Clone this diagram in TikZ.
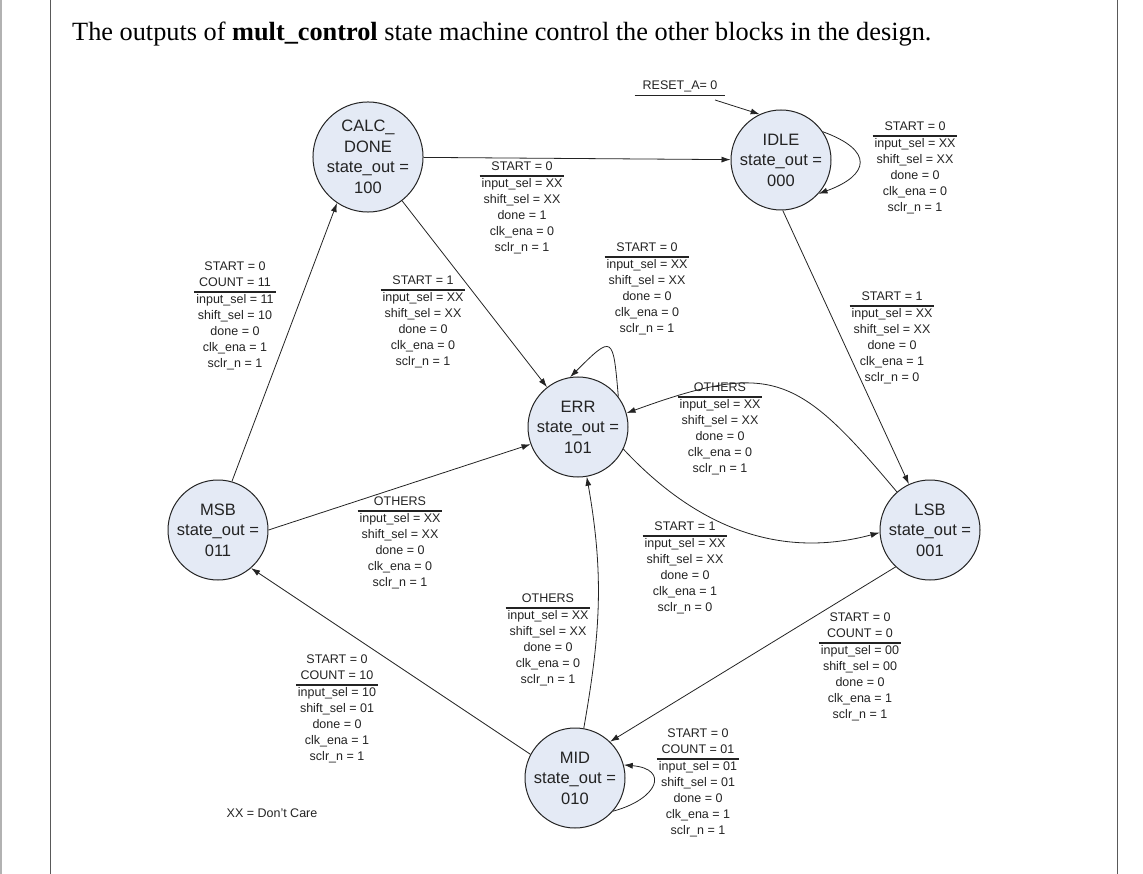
\documentclass[tikz,border=0pt]{standalone}
\usepackage{fontspec}
\setmainfont{Liberation Sans}
\newfontfamily\titlefont{Liberation Serif}
\usetikzlibrary{arrows.meta}
\definecolor{statefill}{RGB}{228,234,245}
\definecolor{ink}{RGB}{35,35,35}
\setlength{\arrayrulewidth}{1.1pt}
% condition(s) over a rule, outputs below
\newcommand{\outs}[2]{\begin{tabular}{@{\hspace{2pt}}c@{\hspace{2pt}}}#1\\\hline #2\end{tabular}}

\begin{document}
\begin{tikzpicture}[x=1pt,y=1pt,
  state/.style={circle,draw=ink,fill=statefill,line width=1pt,minimum size=100pt,
    inner sep=0pt,align=center,text=ink,font=\fontsize{16.5}{20.5}\selectfont},
  lbl/.style={inner sep=0pt,text=ink,font=\fontsize{12.5}{16}\selectfont},
  trans/.style={draw=ink,line width=0.8pt,-{Latex[length=9pt,width=6pt]}}]
  \useasboundingbox (0,0) rectangle (1143,-874);
  % page frame
  \draw[line width=2pt,gray!60] (1,0) -- (1,-874);
  \draw[line width=1pt,gray!70!black] (50,0) -- (50,-874);
  \draw[line width=1pt,gray!70!black] (1117,0) -- (1117,-874);
  \node[anchor=base west,inner sep=0pt,font=\titlefont\fontsize{26.3}{30}\selectfont] (title) at (72,-41)
    {The outputs of \textbf{mult\_control} state machine control the other blocks in the design.};

  % States
  \node[state] (calc) at (368,-157) {CALC\_\\DONE\\state\_out =\\100};
  \node[state] (idle) at (781,-160) {IDLE\\state\_out =\\000};
  \node[state] (err)  at (578,-427) {ERR\\state\_out =\\101};
  \node[state] (msb)  at (218,-530) {MSB\\state\_out =\\011};
  \node[state] (lsb)  at (930,-530) {LSB\\state\_out =\\001};
  \node[state] (mid)  at (575,-778) {MID\\state\_out =\\010};

  % Reset
  \node[lbl,anchor=south] (rstlbl) at (680,-96)
    {\begin{tabular}{@{\hspace{8pt}}c@{\hspace{8pt}}}RESET\_A= 0\\\hline\end{tabular}};
  \coordinate (rst) at (715,-100);
  \draw[trans] (rst) -- (idle.115);

  % Transitions
  \draw[trans] (calc) -- (idle);
  \draw[trans] (idle.34) to[out=-20,in=20,looseness=2.25] (idle.-42);
  \draw[trans] (idle.-88) -- (lsb);
  \draw[trans] (calc) -- (err);
  \draw[trans] (msb.74) -- (calc.236);
  \draw[trans] (err.37) to[out=95,in=45,looseness=3] (err.99);
  \draw[trans] (lsb.131) to[out=130,in=20,looseness=1.4] (err.16);
  \draw[trans] (err.-26) to[out=-47,in=195] (lsb.183);
  \draw[trans] (msb.east) -- (err.200);
  \draw[trans] (mid.80) to[out=80,in=-80] (err.-80);
  \draw[trans] (mid.152) -- (msb.-49);
  \draw[trans] (lsb.227) -- (mid.46);
  \draw[trans] (mid.-41) to[out=15,in=-5,looseness=2.5] (mid.15);

  % Transition outputs
  \node[lbl] (ocalcidle) at (522,-208)
    {\outs{START = 0}{input\_sel = XX\\shift\_sel = XX\\done = 1\\clk\_ena = 0\\sclr\_n = 1}};
  \node[lbl] (oidle) at (915,-168)
    {\outs{START = 0}{input\_sel = XX\\shift\_sel = XX\\done = 0\\clk\_ena = 0\\sclr\_n = 1}};
  \node[lbl] (oidlelsb) at (892,-338)
    {\outs{START = 1}{input\_sel = XX\\shift\_sel = XX\\done = 0\\clk\_ena = 1\\sclr\_n = 0}};
  \node[lbl] (ocalcerr) at (423,-322)
    {\outs{START = 1}{input\_sel = XX\\shift\_sel = XX\\done = 0\\clk\_ena = 0\\sclr\_n = 1}};
  \node[lbl] (omsbcalc) at (235,-316)
    {\outs{START = 0\\COUNT = 11}{input\_sel = 11\\shift\_sel = 10\\done = 0\\clk\_ena = 1\\sclr\_n = 1}};
  \node[lbl] (oerr) at (647,-289)
    {\outs{START = 0}{input\_sel = XX\\shift\_sel = XX\\done = 0\\clk\_ena = 0\\sclr\_n = 1}};
  \node[lbl] (olsberr) at (720,-429)
    {\outs{OTHERS}{input\_sel = XX\\shift\_sel = XX\\done = 0\\clk\_ena = 0\\sclr\_n = 1}};
  \node[lbl] (oerrlsb) at (685,-568)
    {\outs{START = 1}{input\_sel = XX\\shift\_sel = XX\\done = 0\\clk\_ena = 1\\sclr\_n = 0}};
  \node[lbl] (omsberr) at (400,-543)
    {\outs{OTHERS}{input\_sel = XX\\shift\_sel = XX\\done = 0\\clk\_ena = 0\\sclr\_n = 1}};
  \node[lbl] (omiderr) at (548,-640)
    {\outs{OTHERS}{input\_sel = XX\\shift\_sel = XX\\done = 0\\clk\_ena = 0\\sclr\_n = 1}};
  \node[lbl] (omidmsb) at (337,-709)
    {\outs{START = 0\\COUNT = 10}{input\_sel = 10\\shift\_sel = 01\\done = 0\\clk\_ena = 1\\sclr\_n = 1}};
  \node[lbl] (olsbmid) at (860,-667)
    {\outs{START = 0\\COUNT = 0}{input\_sel = 00\\shift\_sel = 00\\done = 0\\clk\_ena = 1\\sclr\_n = 1}};
  \node[lbl] (omid) at (698,-783)
    {\outs{START = 0\\COUNT = 01}{input\_sel = 01\\shift\_sel = 01\\done = 0\\clk\_ena = 1\\sclr\_n = 1}};

  \node[lbl] (note) at (272,-813) {XX = Don't Care};
\end{tikzpicture}
\end{document}
